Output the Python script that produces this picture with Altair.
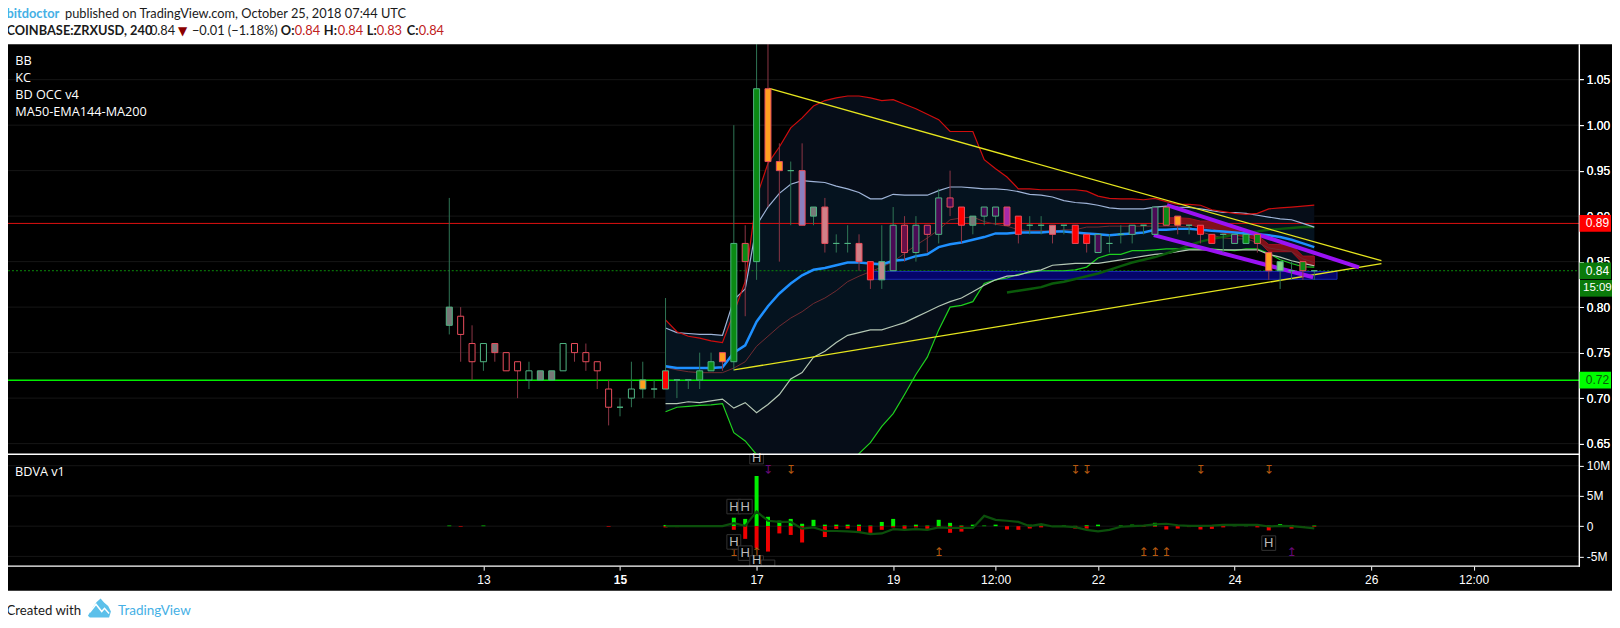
import altair as alt
import pandas as pd

# ---------- candle data (index 0..76, 4h bars) ----------
body_top = [.80,.79,.76,.76,.76,.75,.74,.73,.73,.73,.76,.76,.75,.74,.71,.69,.71,.72,.71,.73,.72,.72,.73,.74,.75,.87,.87,1.04,1.04,.96,.95,.95,.91,.91,.87,.87,.87,.85,.85,.89,.89,.89,.89,.92,.92,.91,.90,.91,.91,.91,.90,.89,.89,.89,.89,.89,.88,.88,.87,.88,.89,.89,.91,.91,.90,.89,.89,.88,.88,.88,.88,.88,.86,.85,.84,.85,.84]
body_bot = [.78,.77,.74,.74,.75,.73,.73,.72,.72,.72,.73,.75,.74,.73,.69,.69,.70,.71,.71,.71,.72,.72,.72,.73,.74,.74,.85,.85,.96,.95,.95,.89,.90,.87,.87,.87,.85,.83,.83,.84,.86,.86,.88,.88,.91,.89,.89,.90,.90,.89,.88,.89,.89,.88,.89,.87,.87,.86,.87,.88,.88,.89,.88,.89,.89,.89,.88,.87,.88,.87,.87,.87,.84,.84,.84,.84,.84]
wick_hi = [.92,.80,.78,.76,.76,.75,.74,.74,.73,.73,.76,.76,.76,.74,.72,.70,.74,.74,.72,.81,.72,.72,.75,.75,.75,1.00,.89,1.089,1.089,.98,.96,.98,.91,.92,.88,.89,.88,.85,.89,.91,.90,.90,.89,.93,.95,.91,.90,.91,.91,.91,.90,.90,.90,.89,.89,.89,.88,.88,.88,.89,.89,.89,.91,.91,.90,.89,.89,.88,.88,.88,.88,.88,.86,.85,.85,.85,.84]
wick_lo = [.77,.74,.72,.73,.74,.73,.70,.71,.72,.72,.73,.74,.73,.71,.67,.68,.69,.70,.70,.71,.70,.71,.71,.73,.73,.73,.79,.83,.91,.85,.89,.89,.89,.86,.86,.86,.84,.82,.82,.84,.85,.85,.86,.87,.90,.87,.88,.89,.89,.89,.87,.88,.88,.87,.88,.87,.86,.86,.86,.87,.87,.88,.88,.89,.88,.88,.87,.87,.86,.87,.87,.86,.83,.82,.83,.83,.83]
direction = ["u","d","d","u","d","d","d","u","u","u","u","d","d","d","d","u","u","u","u","u","u","u","u","u","d","u","d",
             "u","d","d","u","d","u","d","u","u","d","d","u","u","d","u","d","u","d","d","u","u","u","d","d","u","u","d",
             "u","d","d","u","u","u","u","u","u","d","d","u","d","d","u","u","u","d","d","u","u","d","u"]
bar_state = ["grey","none","none","none","grey","none","none","none","grey","grey","none","none","none","none","none","none","none","orange","none","red","none","none","green","green","orange","green","green",
             "green","orange","orange","none","lav","grey","pink","none","none","pink","red","rose","purple","magenta","purple","purple","purple","purple","red","grey","purple","purple","violet","red","none","none","pink",
             "none","red","red","purple","none","none","purple","none","purple","green","orange","none","red","red","none","purple","green","green","orange","lime","none","green","none"]

# ---------- indicator series ----------
bb_upper = [.786,.773,.768,.766,.763,.761,.794,.828,.921,.958,.976,.997,1.008,1.021,1.027,1.030,1.032,1.032,1.030,1.027,1.028,1.023,1.018,1.012,1.006,.993,.993,.993,.962,.952,.943,.930,.930,.929,.929,.929,.929,.9275,.922,.9195,.919,.919,.918,.9195,.916,.913,.913,.912,.907,.905,.903,.902,.903,.908,.909,.910,.911,.912]
kc_upper = [.777,.772,.771,.770,.770,.769,.808,.82,.890,.910,.925,.935,.939,.938,.937,.933,.930,.926,.919,.919,.924,.923,.923,.923,.928,.932,.932,.931,.930,.930,.929,.927,.924,.923,.921,.917,.915,.914,.912,.909,.908,.908,.908,.910,.911,.910,.9095,.908,.906,.904,.904,.903,.901,.899,.897,.896,.892,.888]
basis = [.735,.733,.733,.733,.733,.734,.75,.758,.784,.801,.815,.826,.835,.841,.843,.846,.849,.849,.848,.847,.851,.852,.856,.858,.866,.869,.871,.874,.877,.881,.881,.882,.882,.882,.883,.883,.882,.881,.880,.879,.880,.881,.882,.885,.885,.886,.886,.885,.884,.883,.882,.881,.880,.879,.877,.874,.870,.866]
kc_lower = [.694,.694,.696,.695,.697,.699,.689,.695,.684,.693,.704,.721,.728,.745,.7515,.761,.769,.772,.775,.775,.779,.783,.789,.795,.801,.806,.81,.817,.824,.830,.834,.835,.839,.841,.846,.847,.848,.848,.848,.850,.852,.854,.856,.858,.859,.861,.863,.863,.863,.863,.863,.863,.863,.858,.855,.851,.848,.8455]
bb_lower = [.685,.69,.691,.692,.6925,.694,.662,.653,.638,.61,.59,.58,.58,.585,.59,.60,.62,.639,.651,.669,.683,.704,.726,.745,.775,.80,.802,.806,.826,.830,.832,.836,.838,.840,.840,.840,.841,.844,.854,.858,.858,.862,.862,.863,.864,.864,.864,.864,.864,.863,.862,.864,.864,.859,.852,.848,.8444,.844]
ma50 = [.734,.731,.729,.728,.728,.728,.733,.74,.757,.768,.779,.788,.795,.804,.81,.818,.828,.834,.839,.844,.850,.859,.868,.876,.885,.896,.898,.899,.894,.891,.889,.885,.884,.884,.883,.885,.885,.888,.888,.889,.889,.889,.889,.889,.889,.889,.888,.883,.879,.876,.875,.875,.871,.865,.863,.861,.853,.849]
ema144 = [.816,.818,.820,.822,.826,.828,.831,.834,.837,.841,.845,.849,.852,.855,.859,.863,.868,.872,.875,.877,.880,.882,.883,.885,.886,.887,.888,.888]
band_hi = [.8982,.8982,.8975,.8946,.8946,.892,.8865,.8847,.879,.8689,.8689,.8682,.8561,.8561]
band_lo = [.892,.892,.891,.8873,.8865,.881,.879,.8774,.8737,.8609,.8609,.8609,.848,.8455]

# ---------- volume pane (millions) ----------
vol_up = [.1,0,0,.1,0,0,0,0,0,0,0,0,0,0,0,0,0,0,0,.2,.05,0,0,0,0,1.4,1.2,8.3,1.55,.9,1.2,.4,1.05,.25,.25,.25,.25,.1,.7,1.2,.1,.25,.1,1.05,.55,.1,.25,.1,.25,0,0,.25,.1,0,.1,.05,.15,.25,0,.1,.25,.05,.55,0,.15,.05,.1,0,.1,.2,.1,0,.1,.35,.2,0,.1]
vol_dn = [0,-.1,0,0,0,0,0,0,0,0,0,0,0,0,-.1,0,0,0,0,-.2,-.15,0,0,0,0,-.6,-2.1,-3.6,-4.2,-1.2,-1.45,-2.7,0,-1.8,-.45,-.4,-.9,-1.1,-.6,-.2,-.55,-.2,-.45,-.15,-1.1,-.9,0,0,0,-.55,-.6,-.4,-.2,0,0,-.4,-.4,0,0,0,0,-.1,-.1,-.55,-.4,-.15,-.55,-.45,-.2,0,0,-.2,-.7,-.1,-.4,-.1,-.1]
vol_line = [0,0,0,0,0,0,.5,.05,2.4,.9,.7,.7,-.4,-.2,-.8,-.8,-.85,-1,-1.3,-1.2,-.5,-.6,-.5,-.6,-.2,-.3,-.3,-.3,1.7,1.05,.9,.7,0,.35,-.05,-.05,-.15,-.6,-.85,-.6,-.1,0,.1,.3,.4,.15,.05,.05,.1,.2,.2,.2,.2,-.05,.05,0,-.15,-.35]
arrows_down_orange = [30,55,56,66,72]
arrows_down_purple = [28]
arrows_up_orange = [25,26,27,43,61,62,63]
arrows_up_purple = [74]
h_marks = [(25,3.24),(26,3.24),(25,-2.6),(26,-4.46),(72,-2.8)]

# ---------- axes ----------
price_ticks = [1.05,1.00,.95,.90,.85,.80,.75,.70,.65]
vol_ticks = [10,5,0,-5]
x_ticks = [3,15,27,39,48,57,69,81,90]
x_labels = ["13","15","17","19","12:00","22","24","26","12:00"]

# ---------- geometry ----------
W, H = 1605, 612
AX = 1580.3 - 8          # right axis position in canvas px
P0, PK = 79.5, 910.5     # page-y of 1.05, px per price unit
V0, VK = 526.3, 6.05     # page-y of zero volume, px per million
X0, XK = 447.3, 11.46    # page-x of bar 0, px per bar
F = "Liberation Sans"
UI = "Open Sans"
HD = "Lato"
HS = 12.8

xscale = alt.Scale(domain=[(8 - X0) / XK, (8 + W - X0) / XK], nice=False, zero=False)
pscale = alt.Scale(domain=[1.05 - (8 + H - P0) / PK, 1.05 + (P0 - 8) / PK], nice=False, zero=False)
vscale = alt.Scale(domain=[(V0 - 8 - H) / VK, (V0 - 8) / VK], nice=False, zero=False)

label_expr = "[" + ",".join(f"'{s}'" for s in x_labels) + "][indexof([" + ",".join(map(str, x_ticks)) + "],datum.value)]"
xaxis = alt.Axis(orient="bottom", offset=-(H - (566.3 - 8)), values=x_ticks, labelExpr=label_expr, title=None, grid=False,
                 domain=False, tickColor="white", tickSize=4, labelColor="white", labelFont=F, labelFontSize=12,
                 labelPadding=4, labelOverlap=False, labelFlush=False, zindex=1,
                 labelFontWeight={"condition": {"test": "datum.value == 15 || datum.value == 22", "value": "bold"}, "value": "normal"})
paxis = alt.Axis(orient="right", offset=-(W - AX), values=price_ticks, format=".2f", title=None, grid=False, domain=False,
                 tickColor="white", tickSize=4, labelColor="white", labelFont=F, labelFontSize=12, labelPadding=3,
                 labelOverlap=False, labelFlush=False, zindex=0)
vaxis = alt.Axis(orient="right", offset=-(W - AX), values=vol_ticks, labelExpr="datum.value == 0 ? '0' : datum.value + 'M'",
                 title=None, grid=False, domain=False, tickColor="white", tickSize=4, labelColor="white", labelFont=F,
                 labelFontSize=12, labelPadding=3, labelOverlap=False, labelFlush=False, zindex=0)

X = alt.X("i:Q", scale=xscale, axis=xaxis)
Yp = lambda f="p": alt.Y(f"{f}:Q", scale=pscale, axis=paxis)
Yv = lambda f="v": alt.Y(f"{f}:Q", scale=vscale, axis=vaxis)
one = pd.DataFrame({"a": [0]})


def box(x, x2, y, y2, color):
    return alt.Chart(one).mark_rect(color=color).encode(
        x=alt.value(x - 8), x2=alt.value(x2 - 8), y=alt.value(y - 8), y2=alt.value(y2 - 8))


def txt(t, x, y, size=12, color="white", weight="normal", font=UI, align="left"):
    return alt.Chart(pd.DataFrame({"t": [t]})).mark_text(
        align=align, baseline="alphabetic", fontSize=size, color=color, fontWeight=weight, font=font
    ).encode(x=alt.value(x - 8), y=alt.value(y - 8), text="t:N")


def pline(vals, start, color, width=1.0, dash=None):
    df = pd.DataFrame({"i": list(range(start, start + len(vals))), "p": vals})
    kw = {"strokeDash": dash} if dash else {}
    return alt.Chart(df).mark_line(color=color, strokeWidth=width, **kw).encode(x=X, y=Yp())


def seg(i1, p1, i2, p2, color, width):
    df = pd.DataFrame({"i": [i1, i2], "p": [p1, p2]})
    return alt.Chart(df).mark_line(color=color, strokeWidth=width).encode(x=X, y=Yp())


def parea(up, lo, start, color, **kw):
    df = pd.DataFrame({"i": list(range(start, start + len(up))), "p": up, "q": lo})
    return alt.Chart(df).mark_area(color=color, **kw).encode(x=X, y=Yp(), y2="q:Q")


def hline(p, color, width=1.0, dash=None):
    kw = {"strokeDash": dash} if dash else {}
    return alt.Chart(pd.DataFrame({"p": [p]})).mark_rule(color=color, strokeWidth=width, **kw).encode(
        y=Yp(), x=alt.value(0), x2=alt.value(AX))


def tag(p, label, fill, color="white", x1=1580.5, x2=1612, tx=1586.7, size=12):
    h = 8.35 / PK
    df = pd.DataFrame({"p": [p + h], "q": [p - h], "t": [label], "m": [p]})
    r = alt.Chart(df).mark_rect(color=fill).encode(y=Yp(), y2="q:Q", x=alt.value(x1 - 8), x2=alt.value(x2 - 8))
    t = alt.Chart(df).mark_text(align="left", baseline="middle", fontSize=size, font=F, color=color).encode(
        y=Yp("m"), x=alt.value(tx - 8), text="t:N")
    return r + t


n = len(body_top)
cdf = pd.DataFrame({"i": range(n), "p": body_top, "q": body_bot, "hi": wick_hi, "lo": wick_lo,
                    "dir": direction, "state": bar_state})
state_dom = ["none", "grey", "green", "orange", "red", "purple", "magenta", "lav", "pink", "rose", "lime", "violet"]
state_rng = ["#000000", "#777777", "#0b8a14", "#ffa020", "#ff0000", "#4a0a55", "#681048", "#8a80c0", "#d08088", "#bd8a8a", "#7fd47f", "#a82aa8"]
stroke_enc = alt.Stroke("dir:N", scale=alt.Scale(domain=["u", "d"], range=["#4fb583", "#ea4d5c"]), legend=None)
wick_enc = alt.Color("dir:N", scale=alt.Scale(domain=["u", "d"], range=["#2f7555", "#8c3545"]), legend=None)

wicks = alt.Chart(cdf).mark_rule(strokeWidth=1).encode(x=X, y=Yp("hi"), y2="lo:Q", color=wick_enc)
bodies = alt.Chart(cdf).mark_bar(size=6, strokeWidth=1).encode(
    x=X, y=Yp(), y2="q:Q", stroke=stroke_enc,
    fill=alt.Fill("state:N", scale=alt.Scale(domain=state_dom, range=state_rng), legend=None))

grid_p = alt.Chart(pd.DataFrame({"p": price_ticks})).mark_rule(color="#161616", strokeWidth=1).encode(
    y=Yp(), x=alt.value(0), x2=alt.value(AX))

zone = alt.Chart(pd.DataFrame({"i": [37], "i2": [78], "p": [.8392], "q": [.8306]})).mark_rect(
    color="#05056a", stroke="#1a2ab0", strokeWidth=1).encode(x=X, x2="i2:Q", y=Yp(), y2="q:Q")

main = alt.layer(
    grid_p,
    parea(bb_upper, bb_lower, 19, "#060d18"),
    parea(kc_upper, kc_lower, 19, "#05131f"),
    hline(.892, "#e01010"),
    hline(.84, "#0a8a0a", 1, [2, 2]),
    hline(.7197, "#00ee00", 1.5),
    zone,
    parea(band_hi, band_lo, 63, "#7f1018", stroke="#a01020", strokeWidth=1),
    pline(ma50, 19, "#6f2a30"),
    pline(bb_lower, 19, "#1ed01e", 1.2),
    pline(kc_lower, 19, "#b5c8b5", 1.2),
    pline(ema144, 49, "#0a5a0a", 2.5),
    pline(basis, 19, "#1e90ff", 2.5),
    pline(kc_upper, 19, "#9fb4d8", 1.2),
    pline(bb_upper, 19, "#cf0d0d", 1.2),
    seg(28.1, 1.0403, 81.9, .851, "#e6e61e", 1.3),
    seg(25, .731, 81.9, .8477, "#e6e61e", 1.3),
    seg(63.06, .9122, 79.93, .8437, "#9b12f5", 4),
    seg(61.9, .8792, 75.9, .8328, "#9b12f5", 4),
    wicks,
    bodies,
)

# volume pane
vdf = pd.DataFrame({"i": range(n), "v": vol_up, "d": vol_dn, "z": [0] * n})
grid_v = alt.Chart(pd.DataFrame({"v": vol_ticks})).mark_rule(color="#161616", strokeWidth=1).encode(
    y=Yv(), x=alt.value(0), x2=alt.value(AX))


def vbars(col, color):
    d = vdf[vdf[col] != 0]
    return alt.Chart(d).mark_bar(size=4, color=color).encode(x=X, y=Yv(col), y2="z:Q")


def arrows(idx, glyph, val, color):
    d = pd.DataFrame({"i": idx, "v": [val] * len(idx), "t": [glyph] * len(idx)})
    return alt.Chart(d).mark_text(fontSize=12, font="DejaVu Sans", color=color, baseline="middle", align="center").encode(
        x=X, y=Yv(), text="t:N")


hb = pd.DataFrame({"i": [h[0] - .61 for h in h_marks], "i2": [h[0] + .61 for h in h_marks],
                   "v": [h[1] + 1.2 for h in h_marks], "q": [h[1] - 1.2 for h in h_marks]})
clipped = pd.DataFrame({"i": [26.4, 27.4], "i2": [27.6, 28.6], "v": [-4.9, -5.6], "q": [-6.6, -6.6]})
clipped_top = pd.DataFrame({"i": [26.4], "i2": [27.6], "v": [11.9], "q": [10.3]})
h_txt = pd.DataFrame({"i": [h[0] for h in h_marks] + [27, 27], "v": [h[1] for h in h_marks] + [11.3, -5.6], "t": ["H"] * (len(h_marks) + 2)})


def hbox(d):
    return alt.Chart(d).mark_rect(fill="#000000", stroke="#333333", strokeWidth=1).encode(x=X, x2="i2:Q", y=Yv(), y2="q:Q")


volume = alt.layer(
    box(7, 1580, 454.5, 566, "#000000"),
    grid_v,
    vbars("v", "#00f000"),
    vbars("d", "#f00000"),
    alt.Chart(pd.DataFrame({"i": list(range(19, 19 + len(vol_line))), "v": vol_line})).mark_line(color="#0b4f0b", strokeWidth=2.2).encode(x=X, y=Yv()),
    arrows(arrows_down_orange, "↧", 9.3, "#b85a10"),
    arrows(arrows_down_purple, "↧", 9.3, "#6a0a7a"),
    arrows(arrows_up_orange, "↥", -4.2, "#b85a10"),
    arrows(arrows_up_purple, "↥", -4.2, "#6a0a7a"),
    hbox(hb), hbox(clipped), hbox(clipped_top),
    alt.Chart(h_txt).mark_text(fontSize=13, font=F, color="#bbbbbb", baseline="middle", align="center").encode(x=X, y=Yv(), text="t:N"),
)

cloud = "M-.5,.3 L-.28,-.08 L-.12,-.3 L.05,-.45 L.2,-.28 L.38,-.12 L.5,.12 L.42,.38 L-.42,.38 Z"
zig = "M-.42,.15 L-.15,-.2 L.1,.12 L.22,-.02 L.42,.2"
logo = alt.Chart(one).mark_point(shape=cloud, size=2116, filled=True, color="#5cc0ea", opacity=1).encode(x=alt.value(99.5 - 8), y=alt.value(609 - 8))
logo2 = alt.Chart(one).mark_point(shape=zig, size=2116, filled=False, color="#ffffff", strokeWidth=1.5, opacity=1).encode(x=alt.value(99.5 - 8), y=alt.value(609 - 8))

RED = "#c02020"
B = "#1a1a1a"
deco = alt.layer(
    box(7, 1580, 566.5, 591, "#000000"),
    box(0, 1620, 0, 44, "#ffffff"),
    box(0, 1620, 591, 640, "#ffffff"),
    box(7, 1581, 453.6, 455, "#ffffff"),
    box(7, 1581, 565.6, 567, "#ffffff"),
    box(1579.6, 1581, 44, 567, "#ffffff"),
    tag(.892, "0.89", "#ff0000"),
    tag(.84, "0.84", "#0a7a0a"),
    tag(.8207, "15:09", "#0a7a0a", x1=1581, x2=1613, tx=1584, size=11.5),
    tag(.7197, "0.72", "#00ff00", color="#0a5a0a"),
    txt("BB", 15.3, 65, 12.7), txt("KC", 15.3, 82, 12.7), txt("BD OCC v4", 15.3, 99, 12.7), txt("MA50-EMA144-MA200", 15.3, 116, 12.7),
    txt("BDVA v1", 15, 476, 12.7),
    txt("bitdoctor", 6.5, 18, HS, "#45b0e5", "bold", HD),
    txt("published on TradingView.com, October 25, 2018 07:44 UTC", 65, 18, HS, B, font=HD),
    txt("COINBASE:ZRXUSD, 240", 6.5, 34.5, HS, B, "bold", HD),
    txt("0.84", 150, 34.5, HS, B, font=HD),
    txt("▼", 178, 34.5, 12, "#8b0000", font="DejaVu Sans"),
    txt("−0.01 (−1.18%)", 192, 34.5, HS, B, font=HD),
    txt("O:", 281, 34.5, HS, B, "bold", HD), txt("0.84", 295, 34.5, HS, RED, font=HD),
    txt("H:", 324, 34.5, HS, B, "bold", HD), txt("0.84", 338, 34.5, HS, RED, font=HD),
    txt("L:", 367, 34.5, HS, B, "bold", HD), txt("0.83", 377, 34.5, HS, RED, font=HD),
    txt("C:", 407, 34.5, HS, B, "bold", HD), txt("0.84", 419, 34.5, HS, RED, font=HD),
    txt("Created with", 6.5, 615, 13.2, B, font=HD),
    logo, logo2,
    txt("TradingView", 118, 615, 13.5, "#45b0e5", font=HD),
)

chart = alt.layer(main, volume, deco).resolve_scale(y="independent").properties(
    width=W, height=H, autosize=alt.AutoSizeParams(type="none"), padding=0,
    view=alt.ViewConfig(fill="#000000", stroke=None),
)
chart.save("out.html", embed_options={"renderer": "svg", "actions": False})
